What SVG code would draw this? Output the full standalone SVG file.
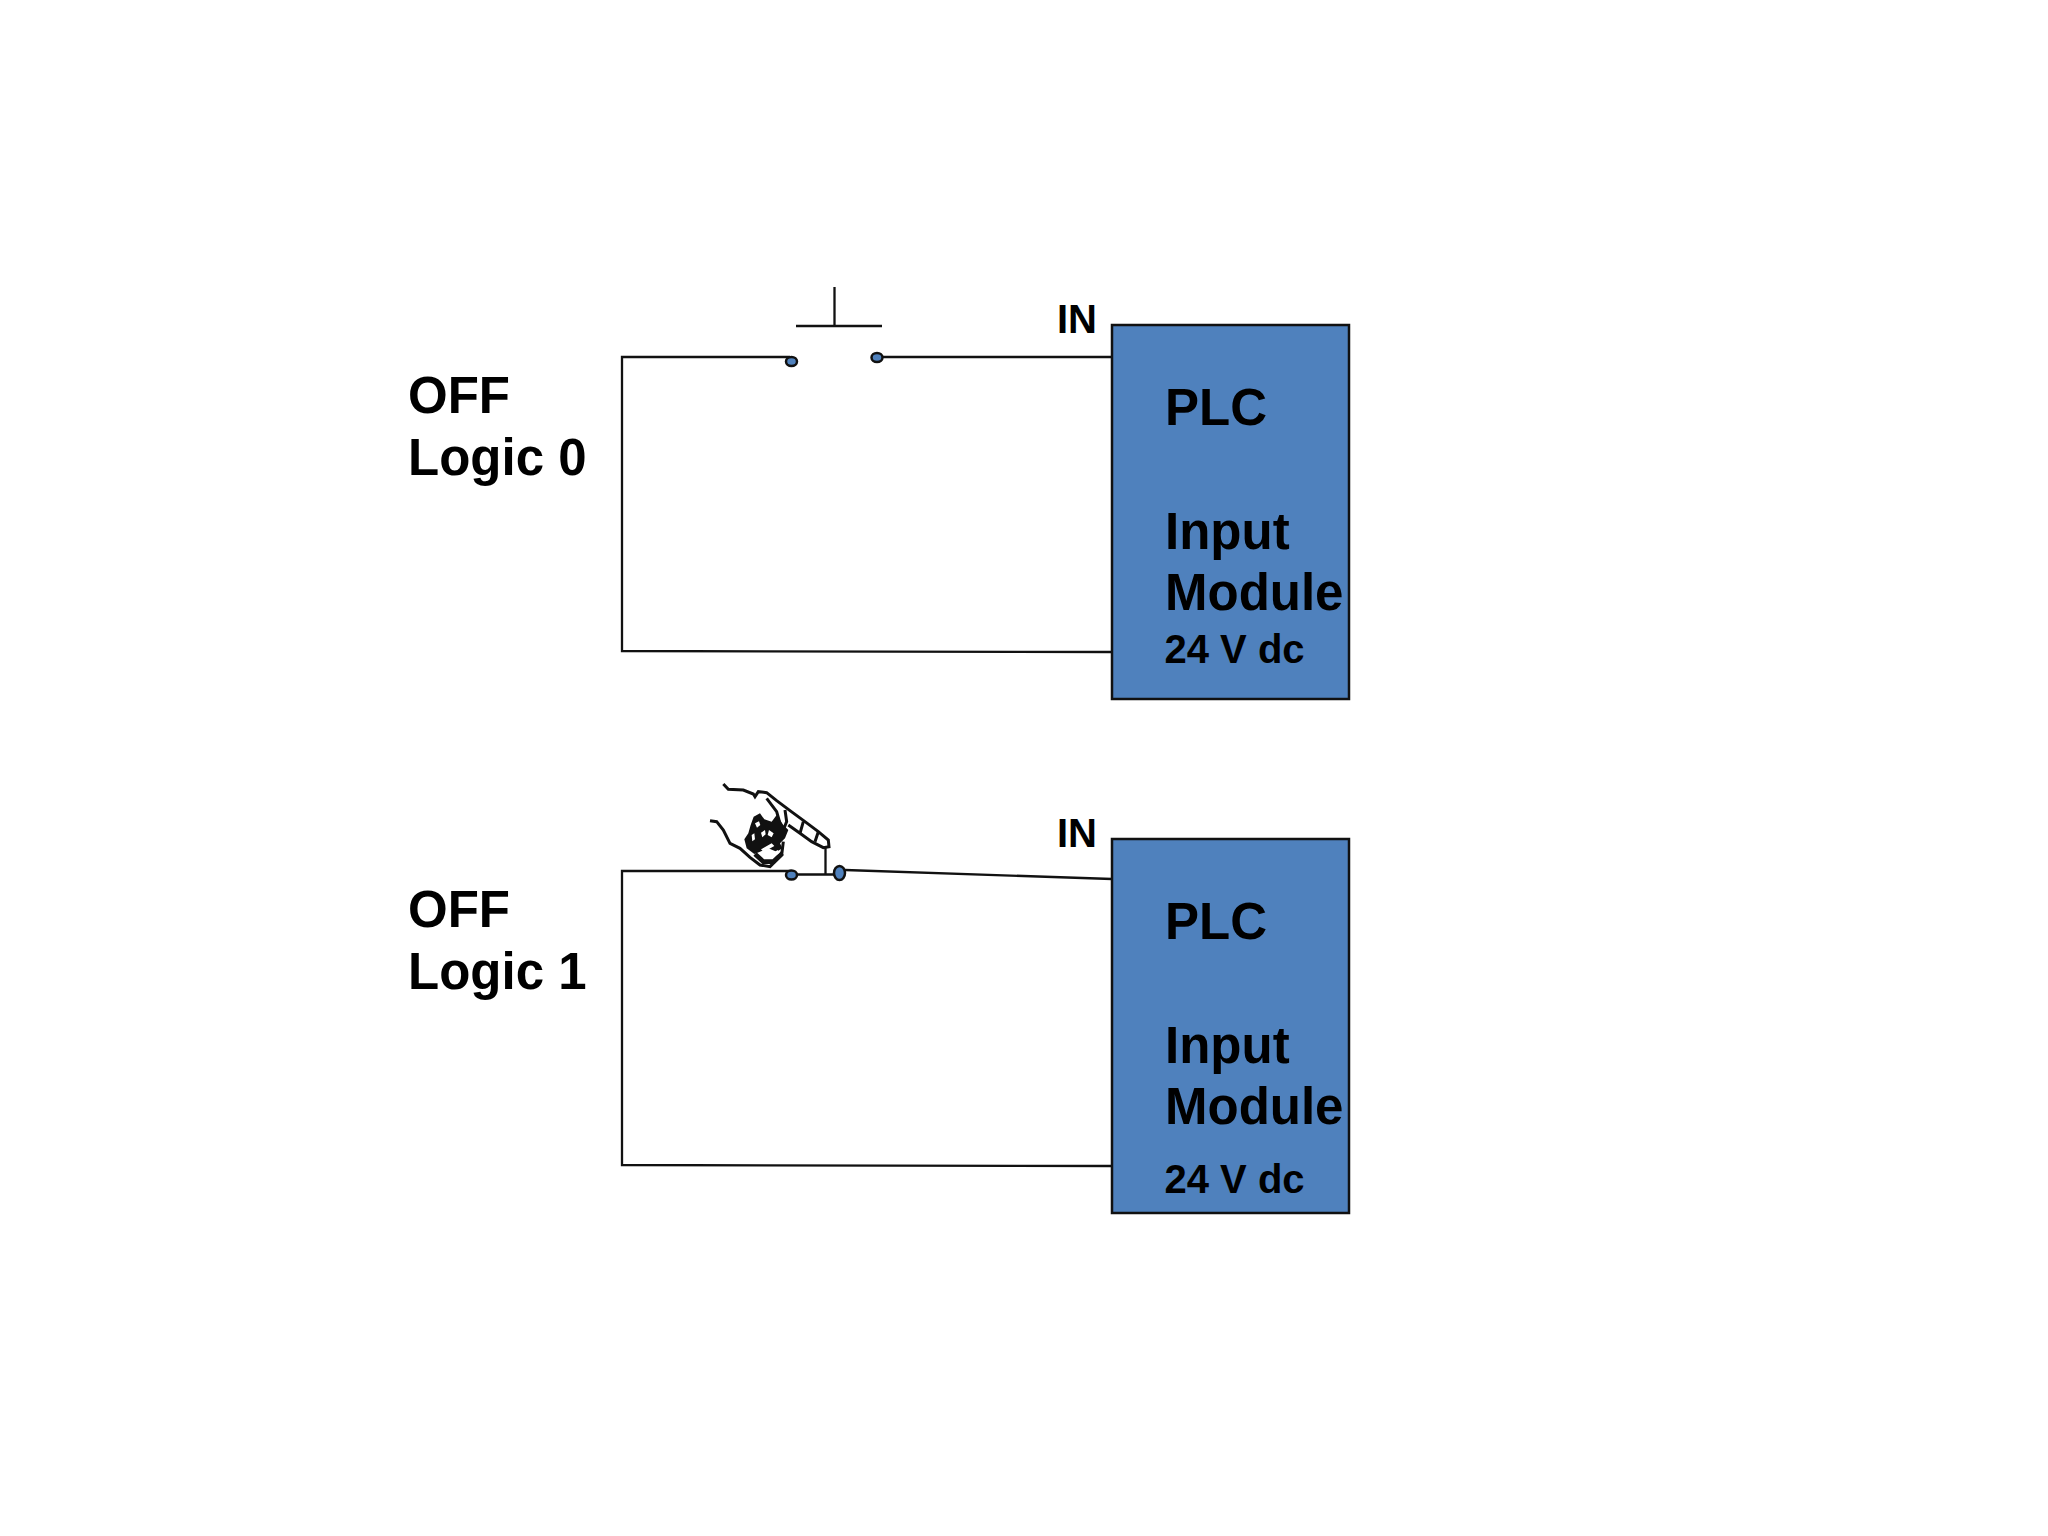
<svg xmlns="http://www.w3.org/2000/svg" width="2048" height="1536" viewBox="0 0 2048 1536">
<style>
.w{fill:none;stroke:#111;stroke-width:2.300}
.b{fill:#4f81bd;stroke:#111;stroke-width:2.500}
.t{font-family:"Liberation Sans",Arial,sans-serif;font-weight:700;fill:#000}
.l{font-size:51px}.s{font-size:40px}
.h{fill:none;stroke:#111;stroke-width:9;stroke-linejoin:miter}
</style>
<rect width="2048" height="1536" fill="#fff"/>
<g id="connectors">
<path class="w" d="M790 357H622V651L1112 652"/>
<path class="w" d="M877 357H1112"/>
<path class="w" d="M796 326H882M834.500 287V326"/>
<path class="w" d="M791 871H622V1165L1112 1166"/>
<path class="w" d="M791 874.500H839M825.500 847V874.500"/>
<path class="w" d="M845 870L1112 879"/>
</g>
<g id="switch-off">
<ellipse class="b" cx="791.500" cy="361.500" rx="5.500" ry="4.500"/>
<ellipse class="b" cx="877" cy="357.500" rx="5.500" ry="4.500"/>
</g>
<g id="switch-on">
<ellipse class="b" cx="791.500" cy="875" rx="5.500" ry="4.500"/>
<ellipse class="b" cx="839.500" cy="873" rx="5.500" ry="7"/>
</g>
<g id="hand" transform="translate(705 780) scale(.3333)">
<path class="h" d="M55 12L70 28L115 30L145 42L150 50L160 35L185 38L215 62L255 92L300 125L340 155L370 180L372 200L355 203L320 185L285 160L250 135"/>
<path class="h" d="M15 122L35 125L55 150L75 190L105 205L135 232L165 255L195 260L230 225L235 185"/>
<path class="h" d="M185 55L215 95L225 130M240 90L245 125L235 150M295 125L285 160M340 155L330 185"/>
<path d="M118 178L130 160L137 135L146 110L165 100L178 118L200 125L215 105L235 135L250 150L240 175L225 190L232 205L215 215L190 205L165 215L148 222L125 205Z" fill="#111"/>
<path class="h" style="stroke-width:14" d="M150 222L175 245L205 245L232 220"/>
<path d="M150 130L162 124L166 135L156 143ZM168 158L180 150L182 163L172 172ZM140 165L148 160L150 178L142 184ZM192 150L206 160L200 172L188 165ZM168 208L200 190L208 198L176 216ZM190 228L218 210L224 218L198 236Z" fill="#fff"/>
</g>
<g id="plc-off">
<rect class="b" x="1112" y="325" width="237" height="374"/>
<text class="t l" x="1165" y="425">PLC</text>
<text class="t l" x="1165" y="549">Input</text>
<text class="t l" x="1165" y="610">Module</text>
<text class="t s" x="1164.500" y="663">24 V dc</text>
</g>
<g id="plc-on">
<rect class="b" x="1112" y="839" width="237" height="374"/>
<text class="t l" x="1165" y="939">PLC</text>
<text class="t l" x="1165" y="1063">Input</text>
<text class="t l" x="1165" y="1124">Module</text>
<text class="t s" x="1164.500" y="1193">24 V dc</text>
</g>
<g id="labels">
<text class="t s" x="1057" y="333">IN</text>
<text class="t s" x="1057" y="847">IN</text>
<text class="t l" x="408" y="413">OFF</text>
<text class="t l" x="408" y="475">Logic 0</text>
<text class="t l" x="408" y="927">OFF</text>
<text class="t l" x="408" y="989">Logic 1</text>
</g>
</svg>
